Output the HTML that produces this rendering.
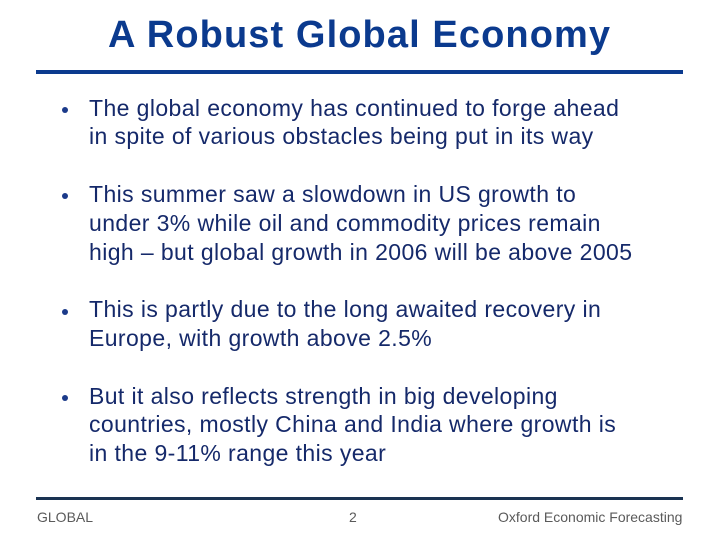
<!DOCTYPE html>
<html>
<head>
<meta charset="utf-8">
<style>
  html, body { margin:0; padding:0; }
  body { width:720px; height:540px; position:relative; background:#ffffff; overflow:hidden;
         font-family:"Liberation Sans", Arial, sans-serif; }
  .t { position:absolute; white-space:nowrap; line-height:1; }
  .title { left:108px; top:16px; font-size:38px; font-weight:bold; color:#0b3a8e; letter-spacing:1.1px; }
  .rule1 { position:absolute; left:36px; top:70px; width:647px; height:4px; background:#0b3a8e; }
  .rule2 { position:absolute; left:36px; top:497px; width:647px; height:3px; background:#1a3352; }
  .b { left:89px; font-size:23px; color:#15296a; letter-spacing:0.4px; }
  .dot { position:absolute; left:61.5px; width:6px; height:6px; border-radius:50%; background:#1b3a8a; }
  .f { font-size:14px; color:#5a5a5a; top:510.4px; }
</style>
</head>
<body>
  <div class="t title">A Robust Global Economy</div>
  <div class="rule1"></div>

  <div class="dot" style="top:106.5px;"></div>
  <div class="t b" style="top:96.5px;">The global economy has continued to forge ahead</div>
  <div class="t b" style="top:125.3px;">in spite of various obstacles being put in its way</div>

  <div class="dot" style="top:192.5px;"></div>
  <div class="t b" style="top:182.9px;">This summer saw a slowdown in US growth to</div>
  <div class="t b" style="top:211.7px;">under 3% while oil and commodity prices remain</div>
  <div class="t b" style="top:240.5px;">high – but global growth in 2006 will be above 2005</div>

  <div class="dot" style="top:308.5px;"></div>
  <div class="t b" style="top:298.1px;">This is partly due to the long awaited recovery in</div>
  <div class="t b" style="top:326.9px;">Europe, with growth above 2.5%</div>

  <div class="dot" style="top:394.5px;"></div>
  <div class="t b" style="top:384.5px;">But it also reflects strength in big developing</div>
  <div class="t b" style="top:413.3px;">countries, mostly China and India where growth is</div>
  <div class="t b" style="top:442.1px;">in the 9-11% range this year</div>

  <div class="rule2"></div>
  <div class="t f" style="left:37px;">GLOBAL</div>
  <div class="t f" style="left:349px;">2</div>
  <div class="t f" style="left:498px;">Oxford Economic Forecasting</div>
</body>
</html>
